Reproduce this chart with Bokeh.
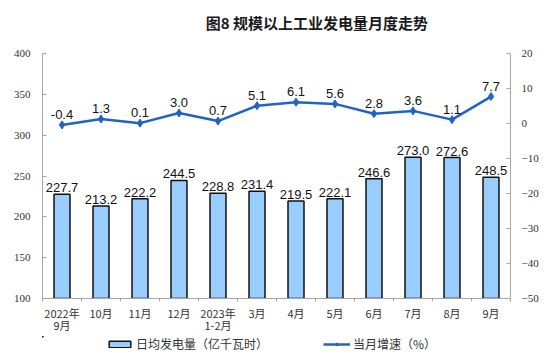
from bokeh.plotting import figure
from bokeh.layouts import column
from bokeh.models import (Range1d, LinearAxis, FixedTicker, ColumnDataSource,
                          Legend, LegendItem, Label)
from bokeh.embed import file_html
from bokeh.resources import INLINE
from bokeh.core.properties import value

categories = ["2022年\n9月", "10月", "11月", "12月", "2023年\n1-2月", "3月",
              "4月", "5月", "6月", "7月", "8月", "9月"]
daily_output = [227.7, 213.2, 222.2, 244.5, 228.8, 231.4, 219.5, 222.1,
                246.6, 273.0, 272.6, 248.5]
growth = [-0.4, 1.3, 0.1, 3.0, 0.7, 5.1, 6.1, 5.6, 2.8, 3.6, 1.1, 7.7]
left_ticks = [100, 150, 200, 250, 300, 350, 400]
right_ticks = [-50, -40, -30, -20, -10, 0, 10, 20]
title_text = "图8  规模以上工业发电量月度走势"
bar_name = "日均发电量（亿千瓦时）"
line_name = "当月增速（%）"

xs = list(range(len(categories)))
src = ColumnDataSource(dict(
    x=xs, bar=daily_output, g=growth,
    bar_lbl=[f"{v:.1f}" for v in daily_output],
    g_lbl=[f"{v:.1f}" for v in growth],
))

BLUE = "#1f63c6"
BAR_FILL = "#99ccff"
BAR_LINE = "#111111"
AX_COL = "#a6a6a6"
W = 542


def strip(h, xr=(0, 1), yr=(0, 1)):
    f = figure(width=W, height=h, output_backend="svg", toolbar_location=None,
               x_range=Range1d(*xr), y_range=Range1d(*yr),
               min_border=0, min_border_left=0, min_border_right=0,
               min_border_top=0, min_border_bottom=0)
    f.axis.visible = False
    f.grid.visible = False
    f.outline_line_color = None
    f.background_fill_color = "white"
    f.border_fill_color = "white"
    return f


# title strip
tf = strip(36)
tf.add_layout(Label(x=276, y=14, x_units="screen", y_units="screen",
                    text=title_text, text_align="center", text_baseline="middle",
                    text_font="Noto Sans CJK SC", text_font_size="15px",
                    text_font_style="bold", text_color="#1a1a1a"))

# main chart
p = figure(width=W, height=298, output_backend="svg", toolbar_location=None,
           x_range=Range1d(-0.5, len(categories) - 0.5),
           y_range=Range1d(100, 400),
           frame_width=468, frame_height=245,
           min_border_left=42, min_border_right=32, min_border_top=17,
           min_border_bottom=36)
p.outline_line_color = None
p.xgrid.visible = False
p.ygrid.visible = False
p.background_fill_color = "white"
p.border_fill_color = "white"
p.extra_y_ranges = {"right": Range1d(-50, 20)}

xa = p.below[0]
xa.ticker = FixedTicker(ticks=xs, minor_ticks=[i - 0.5 for i in range(len(categories) + 1)])
xa.major_label_overrides = {i: c for i, c in enumerate(categories)}
xa.major_tick_in = 0
xa.major_tick_out = 0
xa.minor_tick_in = 0
xa.minor_tick_out = 3
xa.minor_tick_line_color = AX_COL
xa.axis_line_color = AX_COL
xa.major_label_text_font = "Noto Sans CJK SC"
xa.major_label_text_font_size = "11px"
xa.major_label_text_color = "#333333"
xa.major_label_text_line_height = 0.8
xa.major_label_standoff = 3

ya = p.left[0]
ya.ticker = FixedTicker(ticks=left_ticks)
ya.major_tick_in = 4
ya.major_tick_out = 0
ya.minor_tick_in = 0
ya.minor_tick_out = 0
ya.axis_line_color = AX_COL
ya.major_tick_line_color = AX_COL
ya.major_label_text_font = "Liberation Serif"
ya.major_label_text_font_size = "11px"
ya.major_label_text_color = "#333333"
ya.major_label_standoff = 12

ra = LinearAxis(y_range_name="right", ticker=FixedTicker(ticks=right_ticks))
ra.major_tick_in = 4
ra.major_tick_out = 0
ra.minor_tick_in = 0
ra.minor_tick_out = 0
ra.axis_line_color = AX_COL
ra.major_tick_line_color = AX_COL
ra.major_label_text_font = "Liberation Serif"
ra.major_label_text_font_size = "11px"
ra.major_label_text_color = "#333333"
ra.major_label_standoff = 11
p.add_layout(ra, "right")

p.vbar(x="x", top="bar", bottom=100, width=0.41, source=src,
       fill_color=BAR_FILL, line_color=BAR_LINE, line_width=1.5)
p.text(x="x", y="bar", text="bar_lbl", source=src, text_align="center",
       text_baseline="bottom", y_offset=-2, text_font=value("Liberation Sans"),
       text_font_size="13px", text_color="#111111")

p.line(x="x", y="g", source=src, y_range_name="right", line_color=BLUE,
       line_width=2.5)
p.scatter(x="x", y="g", source=src, y_range_name="right", marker="diamond",
          size=8, fill_color=BLUE, line_color=BLUE)
p.text(x="x", y="g", text="g_lbl", source=src, y_range_name="right",
       text_align="center", text_baseline="bottom", y_offset=-6,
       text_font=value("Liberation Sans"), text_font_size="13px",
       text_color="#111111")

# legend strip (its renderers use the same data, scrolled out of view)
lf = strip(27, xr=(100, 101), yr=(0, 1))
lb = lf.vbar(x="x", top="bar", bottom=100, width=0.41, source=src,
             fill_color=BAR_FILL, line_color=BAR_LINE, line_width=1.5)
ll = lf.line(x="x", y="g", source=src, line_color=BLUE, line_width=2.5)
lm = lf.scatter(x="x", y="g", source=src, marker="diamond", size=7,
                fill_color=BLUE, line_color=BLUE)
legend = Legend(items=[LegendItem(label=bar_name, renderers=[lb]),
                       LegendItem(label=line_name, renderers=[ll, lm])],
                location=(64, 11), orientation="horizontal",
                glyph_width=27, glyph_height=8, label_standoff=3, spacing=55,
                padding=0, margin=0, border_line_color=None,
                background_fill_alpha=0,
                label_text_font="Noto Sans CJK SC", label_text_font_size="12px",
                label_text_color="#333333")
lf.add_layout(legend, "center")

layout = column(tf, p, lf, spacing=0)
open("out.html", "w").write(file_html(layout, INLINE))
